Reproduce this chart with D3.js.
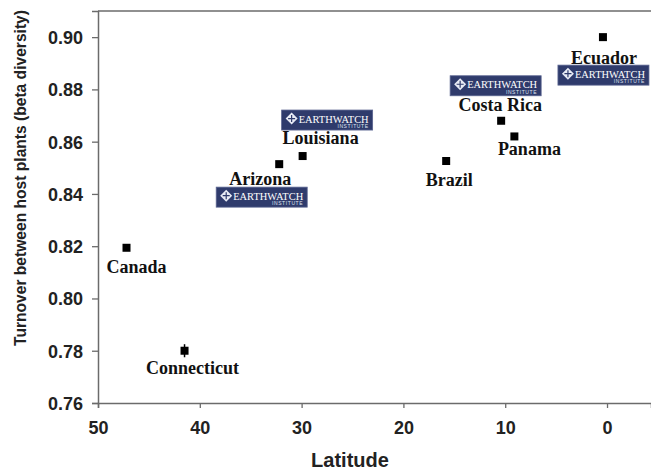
<!DOCTYPE html>
<html>
<head>
<meta charset="utf-8">
<script src="https://cdn.jsdelivr.net/npm/d3@7"></script>
<style>
  html, body { margin: 0; padding: 0; background: #fff; }
  svg { display: block; }
</style>
</head>
<body>
<svg id="chart" width="651" height="473"></svg>
<script>
// ---- data ----
const sites = ["Ecuador", "Costa Rica", "Panama", "Brazil", "Louisiana", "Arizona", "Canada", "Connecticut"];
const latitude = [0.4, 10.4, 9.1, 15.8, 29.9, 32.2, 47.2, 41.5];
const betaDiversity = [0.900, 0.868, 0.862, 0.8526, 0.8545, 0.8514, 0.8194, 0.780];
const betaError = [0, 0, 0, 0, 0, 0, 0, 0.0025];
const xTicks = [50, 40, 30, 20, 10, 0];
const yTicks = [0.76, 0.78, 0.80, 0.82, 0.84, 0.86, 0.88, 0.90];
const badgeSites = ["Ecuador", "Costa Rica", "Louisiana", "Arizona"];

// ---- layout (pixel offsets relative to each point) ----
const labelOffset = {
  "Ecuador": [1, 27], "Costa Rica": [-1, -10], "Panama": [15, 19], "Brazil": [3, 25],
  "Louisiana": [18, -12], "Arizona": [-19, 21], "Canada": [10, 25], "Connecticut": [8, 23]
};
const badgeOffset = {
  "Ecuador": [-45, 28], "Costa Rica": [-51, -45], "Louisiana": [-21, -46], "Arizona": [-63, 23]
};

const svg = d3.select("#chart");
const m = { left: 98, right: 651, top: 11, bottom: 403 };
const x = d3.scaleLinear().domain([50, -4.32]).range([m.left, m.right]);
const y = d3.scaleLinear().domain([0.76, 0.91]).range([m.bottom, m.top]);
const axisColor = "#6b6b6b";

// frame top line
svg.append("line")
  .attr("x1", m.left).attr("x2", m.right).attr("y1", m.top).attr("y2", m.top)
  .attr("stroke", axisColor).attr("stroke-width", 1.5);

// axes
const gx = svg.append("g").attr("transform", `translate(0,${m.bottom})`)
  .call(d3.axisBottom(x).tickValues(xTicks).tickFormat(d3.format("d")).tickSize(5).tickPadding(13));
const gy = svg.append("g").attr("transform", `translate(${m.left},0)`)
  .call(d3.axisLeft(y).tickValues(yTicks).tickFormat(d3.format(".2f")).tickSize(6).tickPadding(9));
[gx, gy].forEach(g => {
  g.selectAll(".domain").attr("stroke", axisColor).attr("stroke-width", 1.5);
  g.selectAll(".tick line").attr("stroke", axisColor).attr("stroke-width", 1.3);
  g.selectAll(".tick text")
    .attr("fill", "#222")
    .style("font-family", "Liberation Sans, Arial, sans-serif")
    .style("font-weight", "bold").style("font-size", "18px");
});
gy.selectAll(".tick text").attr("dy", "0.36em");

// axis titles
svg.append("text")
  .attr("x", 350).attr("y", 467).attr("text-anchor", "middle")
  .style("font-family", "Liberation Sans, Arial, sans-serif")
  .style("font-weight", "bold").style("font-size", "20px").attr("fill", "#222")
  .text("Latitude");
svg.append("text")
  .attr("transform", "translate(26,178) rotate(-90)").attr("text-anchor", "middle")
  .style("font-family", "Liberation Sans, Arial, sans-serif")
  .style("font-weight", "bold").style("font-size", "15.6px").attr("fill", "#222")
  .text("Turnover between host plants (beta diversity)");

const pts = sites.map((s, i) => ({ site: s, lat: latitude[i], beta: betaDiversity[i], err: betaError[i] }));

// error bars
svg.append("g").selectAll("line").data(pts.filter(d => d.err > 0)).join("line")
  .attr("x1", d => x(d.lat)).attr("x2", d => x(d.lat))
  .attr("y1", d => y(d.beta - d.err)).attr("y2", d => y(d.beta + d.err))
  .attr("stroke", "#000").attr("stroke-width", 1.5);

// markers
const sz = 8;
svg.append("g").selectAll("rect").data(pts).join("rect")
  .attr("x", d => x(d.lat) - sz / 2).attr("y", d => y(d.beta) - sz / 2)
  .attr("width", sz).attr("height", sz).attr("fill", "#000");

// labels
svg.append("g").selectAll("text").data(pts).join("text")
  .attr("x", d => x(d.lat) + labelOffset[d.site][0])
  .attr("y", d => y(d.beta) + labelOffset[d.site][1])
  .attr("text-anchor", "middle")
  .style("font-family", "Liberation Serif, 'Times New Roman', serif")
  .style("font-weight", "bold").style("font-size", "18px").attr("fill", "#111")
  .text(d => d.site);

// Earthwatch badges
const bw = 91, bh = 20;
const badges = svg.append("g").selectAll("g")
  .data(pts.filter(d => badgeSites.includes(d.site))).join("g")
  .attr("transform", d => `translate(${x(d.lat) + badgeOffset[d.site][0]},${y(d.beta) + badgeOffset[d.site][1]})`);
badges.append("rect").attr("width", bw).attr("height", bh)
  .attr("fill", "#2f3b6c").attr("stroke", "#5a6490").attr("stroke-width", 0.8);
badges.append("path")
  .attr("d", "M10,2.5 L16,8.5 L10,14.5 L4,8.5 Z")
  .attr("fill", "#e8ebf5");
badges.append("path")
  .attr("d", "M10,5 L10,12 M6.5,8.5 L13.5,8.5")
  .attr("stroke", "#2f3b6c").attr("stroke-width", 1.2);
badges.append("text")
  .attr("x", 17).attr("y", 12.5)
  .style("font-family", "Liberation Serif, 'Times New Roman', serif")
  .style("font-size", "10.5px").attr("fill", "#fff").attr("textLength", 70)
  .attr("lengthAdjust", "spacingAndGlyphs")
  .text("EARTHWATCH");
badges.append("text")
  .attr("x", 87).attr("y", 18).attr("text-anchor", "end")
  .style("font-family", "Liberation Sans, Arial, sans-serif")
  .style("font-size", "5px").attr("fill", "#dfe3f0").attr("letter-spacing", "0.6px")
  .text("INSTITUTE");
</script>
</body>
</html>
